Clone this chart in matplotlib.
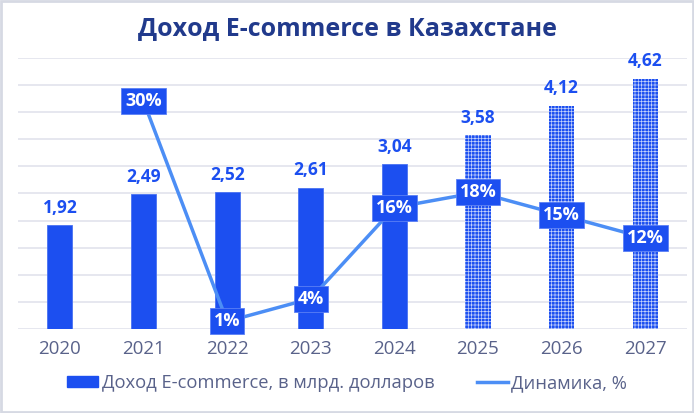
import matplotlib
matplotlib.use("Agg")
import matplotlib.pyplot as plt
from matplotlib.patches import Rectangle, Patch
from matplotlib.lines import Line2D

years = ["2020", "2021", "2022", "2023", "2024", "2025", "2026", "2027"]
revenue = [1.92, 2.49, 2.52, 2.61, 3.04, 3.58, 4.12, 4.62]
revenue_labels = ["1,92", "2,49", "2,52", "2,61", "3,04", "3,58", "4,12", "4,62"]
forecast_from = 5  # index of first forecast year
growth_years_idx = [1, 2, 3, 4, 5, 6, 7]
growth = [0.30, 0.01, 0.04, 0.16, 0.18, 0.15, 0.12]
growth_labels = ["30%", "1%", "4%", "16%", "18%", "15%", "12%"]

plt.rcParams['font.family'] = ['Open Sans', 'DejaVu Sans']
plt.rcParams['hatch.linewidth'] = 0.5

BLUE = "#1c4ff0"
LINE = "#4c8ef5"
TXT = "#59628a"
TITLE = "#213a8c"
GRID = "#e1e3ec"

fig = plt.figure(figsize=(6.94, 4.13), dpi=100)
fig.patch.set_facecolor("white")
fig.patches.append(Rectangle((0.002, 0.003), 0.996, 0.994, transform=fig.transFigure,
                             fill=False, edgecolor="#d6d9e3", linewidth=2))

ax = fig.add_axes([0.026, 0.2034, 0.9640, 0.6562])
x = list(range(len(years)))

for i, v in enumerate(revenue):
    if i < forecast_from:
        ax.bar(i, v, width=0.3, color=BLUE, edgecolor="#4a72f2", linewidth=0.6, zorder=2)
    else:
        ax.bar(i, v, width=0.3, color=BLUE, edgecolor="#c4d1fb", linewidth=0,
               hatch="+++++", zorder=2)
    ax.annotate(revenue_labels[i], (i, v), xytext=(0, 6), textcoords="offset points",
                ha="center", va="bottom", color=BLUE, fontsize=12.5, fontweight="bold")

ax.set_xlim(-0.5, len(years) - 0.5)
ax.set_ylim(0, 5.0)
ax.set_yticks([k * 0.5 for k in range(11)])
ax.yaxis.grid(True, color=GRID, linewidth=1.2, zorder=0)
ax.set_axisbelow(True)
ax.set_yticklabels([])
ax.tick_params(axis="y", length=0)
ax.set_xticks(x)
ax.set_xticklabels(years, color=TXT, fontsize=13.5)
ax.tick_params(axis="x", length=0, pad=8)
for s in ax.spines.values():
    s.set_visible(False)

ax2 = ax.twinx()
ax2.set_ylim(0, 0.357)
ax2.plot(growth_years_idx, growth, color=LINE, linewidth=2.5, zorder=3)
for xi, g, lab in zip(growth_years_idx, growth, growth_labels):
    ax2.text(xi, g, lab, ha="center", va="center", color="white", fontsize=13,
             fontweight="bold", zorder=5,
             bbox=dict(boxstyle="square,pad=0.22", facecolor=BLUE, edgecolor="#5b80f5",
                       linewidth=0.6))
ax2.set_yticks([])
for s in ax2.spines.values():
    s.set_visible(False)

fig.text(0.5, 0.93, "Доход E-commerce в Казахстане", ha="center", va="center",
         color=TITLE, fontsize=18, fontweight="bold")

handles = [Patch(facecolor=BLUE, edgecolor=BLUE),
           Line2D([0], [0], color=LINE, linewidth=2.5)]
fig.legend(handles, ["Доход E-commerce, в млрд. долларов", "Динамика, %"],
           loc="center", bbox_to_anchor=(0.5, 0.073), ncol=2, frameon=False,
           fontsize=13.2, labelcolor=TXT, handlelength=1.7, handleheight=0.6,
           handletextpad=0.2, columnspacing=2.3)

fig.savefig("out.png", dpi=100)
